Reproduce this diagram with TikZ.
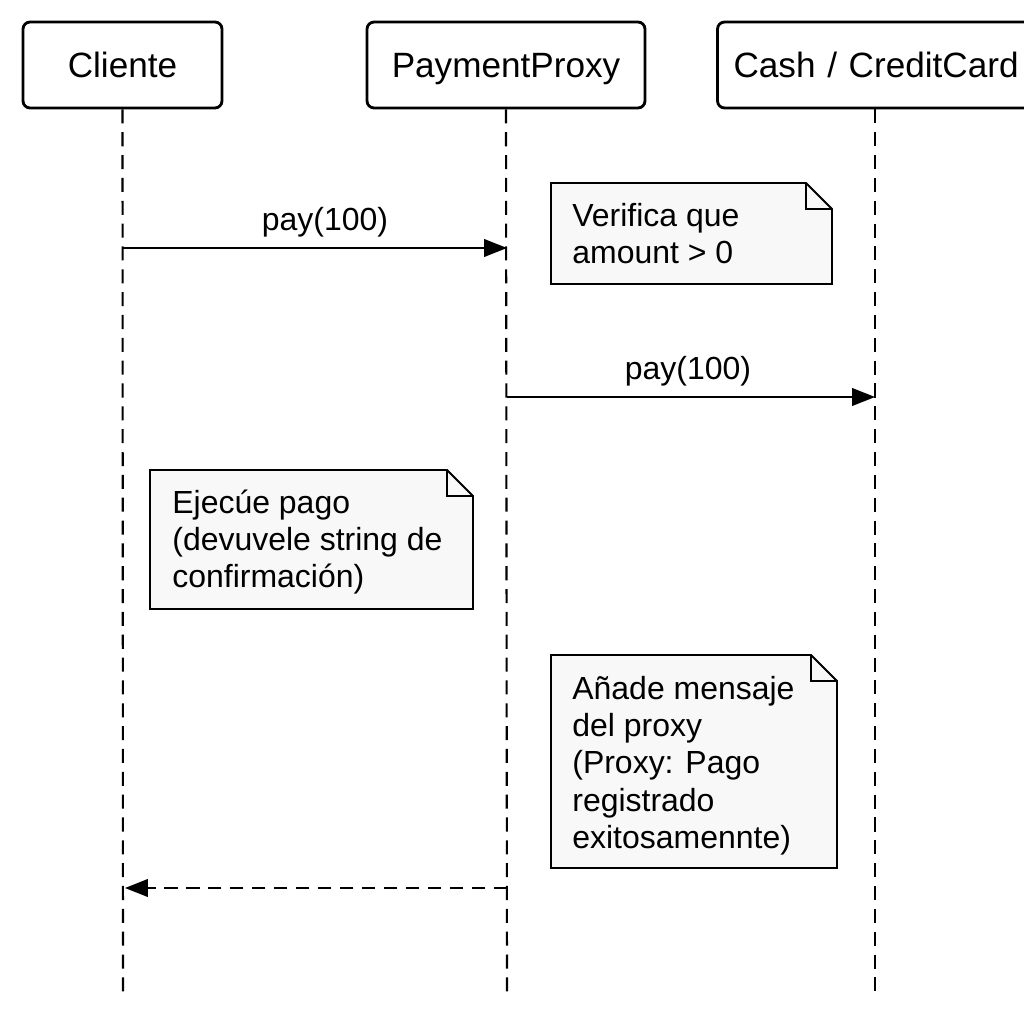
\documentclass[tikz,border=0pt]{standalone}
\usepackage{fontspec}
\setmainfont{Liberation Sans}
\usetikzlibrary{arrows.meta}
\definecolor{notegray}{HTML}{F8F8F8}
\begin{document}
\begin{tikzpicture}[x=0.02cm,y=-0.02cm,
  head/.style={draw, line width=1.6pt, rounded corners=4pt, fill=white, minimum height=1.72cm, inner sep=0pt, text height=14.4pt, text depth=0pt, font=\fontsize{20}{23}\selectfont},
  life/.style={line width=1.2pt, dash pattern=on 8pt off 5pt},
  msg/.style={line width=1.1pt, -{Triangle[length=13pt,width=10pt]}},
  ret/.style={msg, dash pattern=on 7.5pt off 5pt},
  notebox/.style={draw, line width=1.1pt, fill=notegray},
  notefold/.style={draw, line width=1.1pt},
  notetext/.style={anchor=north west, align=left, inner sep=0pt, font=\fontsize{18.2}{21.2}\selectfont},
  lbl/.style={font=\fontsize{18.2}{21}\selectfont, inner sep=0pt}]
\useasboundingbox (0,0) rectangle (1024,1024);
\fill[white] (0,0) rectangle (1024,1024);

% headers
\node[head, minimum width=3.98cm] (cli) at (122.5,65) {Cliente};
\node[head, minimum width=5.56cm] (pp) at (506,65) {PaymentProxy};
\node[head, minimum width=6.30cm, text width=5.9cm, align=left] (cc) at (875,65) {\hspace{0.12cm}Cash / CreditCard};

% lifeline ends
\coordinate (cliEnd) at (123,995);
\coordinate (ppEnd) at (507,995);
\coordinate (ccEnd) at (875,995);
\draw[life] (cli.south) -- (cliEnd);
\draw[life] (pp.south) -- (ppEnd);
\draw[life] (cc.south) -- (ccEnd);

% message points
\coordinate (m1a) at (123,248);
\coordinate (m1b) at (507,248);
\coordinate (m2a) at (507,397);
\coordinate (m2b) at (875,397);
\coordinate (m3a) at (507,888);
\coordinate (m3b) at (125,888);

\draw[msg] (m1a) -- (m1b);
\node[lbl] (l1) at (325,222) {pay(100)};
\draw[msg] (m2a) -- (m2b);
\node[lbl] (l2) at (688,371) {pay(100)};
\draw[ret] (m3a) -- (m3b);

% note 1
\path[notebox] (551,183) -- (806,183) -- (832,209) -- (832,284) -- (551,284) -- cycle;
\path[notefold] (806,183) -- (806,209) -- (832,209);
\node[notetext] (n1) at (572,200) {\strut Verifica que\\amount > 0};

% note 2
\path[notebox] (150,470) -- (447,470) -- (473,496) -- (473,609) -- (150,609) -- cycle;
\path[notefold] (447,470) -- (447,496) -- (473,496);
\node[notetext] (n2) at (172,487) {\strut Ejecúe pago\\(devuvele string de\\confirmación)};

% note 3
\path[notebox] (551,655) -- (811,655) -- (837,681) -- (837,868) -- (551,868) -- cycle;
\path[notefold] (811,655) -- (811,681) -- (837,681);
\node[notetext] (n3) at (572,673) {\strut Añade mensaje\\del proxy\\(Proxy: Pago\\registrado\\exitosamennte)};
\end{tikzpicture}
\end{document}
